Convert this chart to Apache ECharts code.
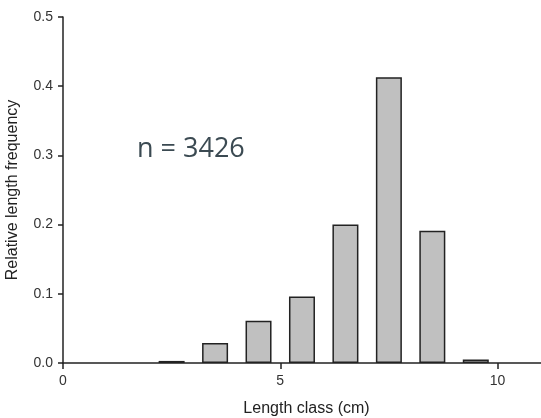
<!DOCTYPE html>
<html>
<head>
<meta charset="utf-8">
<script src="https://cdn.jsdelivr.net/npm/echarts@6/dist/echarts.min.js"></script>
<style>
html,body{margin:0;padding:0;background:#fff;}
#chart{width:541px;height:418px;}
</style>
</head>
<body>
<div id="chart"></div>
<script>
var lengthClass = [2.5, 3.5, 4.5, 5.5, 6.5, 7.5, 8.5, 9.5];
var frequency = [0.003, 0.029, 0.061, 0.096, 0.200, 0.413, 0.191, 0.005];
var xTickLabels = [0, 5, 10];
var annotation = 'n = 3426';

var chart = echarts.init(document.getElementById('chart'), null, {renderer: 'canvas'});
var axisColor = '#222';
var font = 'Liberation Sans, Arial, sans-serif';
var option = {
  animation: false,
  backgroundColor: '#fff',
  grid: {left: 63, right: -3, top: 17, bottom: 55, containLabel: false, outerBoundsMode: 'none'},
  xAxis: {
    type: 'value', min: 0, max: 11.07, interval: 5,
    name: 'Length class (cm)', nameLocation: 'middle', nameGap: 38,
    nameTextStyle: {fontFamily: font, fontSize: 16, color: '#222', padding: [0, 0, 0, 6]},
    axisLine: {show: true, onZero: false, lineStyle: {color: axisColor, width: 1.5}},
    axisTick: {show: true, inside: false, length: 6, lineStyle: {color: '#222', width: 1.5, opacity: 1}},
    axisLabel: {show: true, margin: 11, fontFamily: font, fontSize: 14, color: '#333',
      formatter: function (v) { return xTickLabels.indexOf(v) >= 0 ? String(v) : ''; }},
    splitLine: {show: false}
  },
  yAxis: {
    type: 'value', min: 0, max: 0.5, interval: 0.1,
    name: 'Relative length frequency', nameLocation: 'middle', nameGap: 42,
    nameTextStyle: {fontFamily: font, fontSize: 16, color: '#222'},
    axisLine: {show: true, lineStyle: {color: axisColor, width: 1.5}},
    axisTick: {show: true, inside: false, length: 5, lineStyle: {color: axisColor, width: 1.5}},
    axisLabel: {margin: 10, fontFamily: font, fontSize: 14, color: '#333',
      formatter: function (v) { return v.toFixed(1); }},
    splitLine: {show: false}
  },
  series: [{
    type: 'bar',
    barWidth: 26,
    data: lengthClass.map(function (x, i) { return [x, frequency[i]]; }),
    itemStyle: {color: '#c0c0c0', borderColor: '#222', borderWidth: 1.5}
  }],
  graphic: [{
    type: 'text', left: 137, top: 136,
    style: {text: annotation, fontFamily: 'Open Sans, Noto Sans, sans-serif', fontSize: 27, fill: '#3b4a52'}
  }]
};
chart.setOption(option);
</script>
</body>
</html>
